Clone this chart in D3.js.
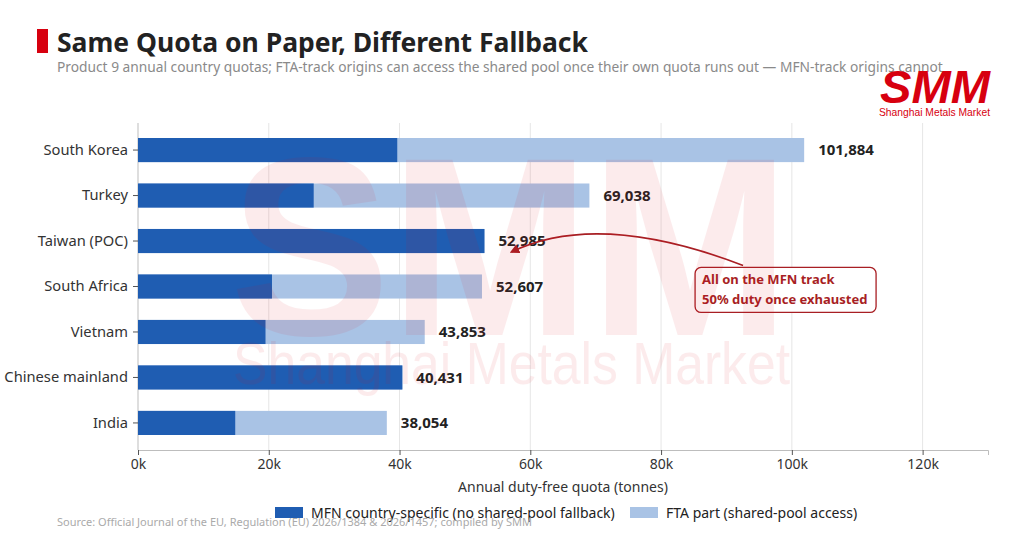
<!DOCTYPE html>
<html>
<head>
<meta charset="utf-8">
<script src="https://cdn.jsdelivr.net/npm/d3@7"></script>
<style>
  body { margin: 0; background: #fff; }
  svg { display: block; font-family: "Noto Sans", "DejaVu Sans", sans-serif; }
</style>
</head>
<body>
<div id="chart"></div>
<script>
const countries = ['South Korea', 'Turkey', 'Taiwan (POC)', 'South Africa', 'Vietnam', 'Chinese mainland', 'India'];
const totalQuota = [101884, 69038, 52985, 52607, 43853, 40431, 38054];
const mfnPart = [39650, 26870, 52985, 20490, 19500, 40431, 14870];
const xTicks = [0, 20000, 40000, 60000, 80000, 100000, 120000];
const seriesNames = ['MFN country-specific (no shared-pool fallback)', 'FTA part (shared-pool access)'];

const width = 1024;
const height = 546;
const margin = {left: 138, right: 36, top: 123, bottom: 96};
const darkBlue = '#1f5db2';
const lightBlue = '#a9c3e5';
const noteRed = '#a81f24';

const svg = d3.select('#chart')
              .append('svg')
                .attr('width', width)
                .attr('height', height);

const xScale = d3.scaleLinear()
                 .domain([0, 130000])
                 .range([margin.left, width - margin.right]);

const yScale = d3.scaleBand()
                 .domain(countries)
                 .range([margin.top, height - margin.bottom])
                 .paddingInner(0.47)
                 .paddingOuter(0.33);

// title block
svg.append('rect')
   .attr('x', 37).attr('y', 29)
   .attr('width', 11).attr('height', 24)
   .attr('fill', '#d7000f');

svg.append('text')
   .attr('x', 57).attr('y', 52)
   .attr('font-size', 26.5)
   .attr('font-weight', 'bold')
   .attr('fill', '#222')
   .text('Same Quota on Paper, Different Fallback');

svg.append('text')
   .attr('x', 57).attr('y', 72)
   .attr('font-size', 13.75)
   .attr('fill', '#8a8a8a')
   .text('Product 9 annual country quotas; FTA-track origins can access the shared pool once their own quota runs out \u2014 MFN-track origins cannot');

// logo
svg.append('text')
   .attr('x', 880).attr('y', 103)
   .attr('font-size', 46)
   .attr('font-weight', 900)
   .attr('font-style', 'italic')
   .attr('font-family', '"Liberation Sans", Arial, sans-serif')
   .attr('textLength', 110)
   .attr('lengthAdjust', 'spacingAndGlyphs')
   .attr('fill', '#d7000f')
   .text('SMM');

svg.append('text')
   .attr('x', 879).attr('y', 116)
   .attr('font-size', 11)
   .attr('font-family', '"Liberation Sans", Arial, sans-serif')
   .attr('textLength', 111)
   .attr('lengthAdjust', 'spacingAndGlyphs')
   .attr('fill', '#d7000f')
   .text('Shanghai Metals Market');

// gridlines
svg.append('g')
   .selectAll('line')
   .data(xTicks.slice(1))
   .enter()
     .append('line')
       .attr('x1', d => xScale(d)).attr('x2', d => xScale(d))
       .attr('y1', margin.top).attr('y2', height - margin.bottom)
       .attr('stroke', '#e6e6e6')
       .attr('stroke-width', 1);

// x-axis
const xAxis = svg.append('g')
                 .attr('transform', `translate(0, ${height - margin.bottom})`)
                 .call(d3.axisBottom(xScale)
                         .tickValues(xTicks)
                         .tickFormat(d => (d / 1000) + 'k')
                         .tickSize(5)
                         .tickPadding(4));
xAxis.select('.domain').attr('stroke', '#bdbdbd');
xAxis.selectAll('.tick line').attr('stroke', '#555');
xAxis.selectAll('.tick text')
     .attr('font-size', 14)
     .attr('font-family', '"Noto Sans", sans-serif')
     .attr('fill', '#333');

svg.append('text')
   .attr('x', (xScale.range()[0] + xScale.range()[1]) / 2)
   .attr('y', 492)
   .attr('text-anchor', 'middle')
   .attr('font-size', 14)
   .attr('fill', '#333')
   .text('Annual duty-free quota (tonnes)');

// y-axis
const yAxis = svg.append('g')
                 .attr('transform', `translate(${margin.left}, 0)`)
                 .call(d3.axisLeft(yScale).tickSize(5).tickPadding(5));
yAxis.select('.domain')
     .attr('stroke', '#bdbdbd')
     .attr('d', `M0,${margin.top}V${height - margin.bottom}`);
yAxis.selectAll('.tick line').attr('stroke', '#555');
yAxis.selectAll('.tick text')
     .attr('font-size', 14.7)
     .attr('font-family', '"Noto Sans", sans-serif')
     .attr('fill', '#333');

// bars
const rows = countries.map((c, i) => ({country: c, total: totalQuota[i], mfn: mfnPart[i]}));

svg.append('g')
   .selectAll('rect')
   .data(rows)
   .enter()
     .append('rect')
       .attr('x', xScale(0))
       .attr('y', d => yScale(d.country))
       .attr('width', d => xScale(d.total) - xScale(0))
       .attr('height', yScale.bandwidth())
       .attr('fill', lightBlue);

svg.append('g')
   .selectAll('rect')
   .data(rows)
   .enter()
     .append('rect')
       .attr('x', xScale(0))
       .attr('y', d => yScale(d.country))
       .attr('width', d => xScale(d.mfn) - xScale(0))
       .attr('height', yScale.bandwidth())
       .attr('fill', darkBlue);

// value labels
svg.append('g')
   .selectAll('text')
   .data(rows)
   .enter()
     .append('text')
       .attr('x', d => xScale(d.total) + 14)
       .attr('y', d => yScale(d.country) + yScale.bandwidth() / 2)
       .attr('dy', '0.35em')
       .attr('font-size', 15)
       .attr('font-weight', 'bold')
       .attr('fill', '#222')
       .text(d => d3.format(',')(d.total));

// annotation
const taiwan = rows[2];
const tipX = xScale(taiwan.total) + 27;
const tipY = yScale(taiwan.country) + yScale.bandwidth() / 2 + 11;
const boxX = xScale(85200);
const boxY = yScale('South Africa') - 7;
const startX = boxX + 48;
const startY = boxY - 2;

svg.append('defs')
   .append('marker')
     .attr('id', 'arrowhead')
     .attr('viewBox', '0 0 10 10')
     .attr('refX', 8).attr('refY', 5)
     .attr('markerWidth', 6).attr('markerHeight', 6)
     .attr('orient', 'auto-start-reverse')
   .append('path')
     .attr('d', 'M0,0L10,5L0,10Z')
     .attr('fill', noteRed);

const curve = d3.path();
curve.moveTo(startX, startY);
curve.quadraticCurveTo(598, 210, tipX, tipY);
svg.append('path')
   .attr('d', curve.toString())
   .attr('fill', 'none')
   .attr('stroke', noteRed)
   .attr('stroke-width', 1.6)
   .attr('marker-end', 'url(#arrowhead)');

svg.append('rect')
   .attr('x', boxX).attr('y', boxY)
   .attr('width', 181).attr('height', 45)
   .attr('rx', 6)
   .attr('fill', '#fff')
   .attr('stroke', noteRed)
   .attr('stroke-width', 1.3);

const note = svg.append('text')
                .attr('font-size', 13)
                .attr('font-weight', 'bold')
                .attr('fill', noteRed);
note.append('tspan').attr('x', boxX + 7).attr('y', boxY + 17).text('All on the MFN track');
note.append('tspan').attr('x', boxX + 7).attr('y', boxY + 37).text('50% duty once exhausted');

// legend
const legend = svg.append('g');
const legendX = [275, 630];
const legendColors = [darkBlue, lightBlue];
seriesNames.forEach((name, i) => {
    legend.append('rect')
          .attr('x', legendX[i]).attr('y', 507)
          .attr('width', 28).attr('height', 11)
          .attr('fill', legendColors[i]);
    legend.append('text')
          .attr('x', legendX[i] + 36).attr('y', 513)
          .attr('dy', '0.35em')
          .attr('font-size', 14)
          .attr('fill', '#222')
          .text(name);
});

// source
svg.append('text')
   .attr('x', 57).attr('y', 526)
   .attr('font-size', 11)
   .attr('fill', '#aaa')
   .text('Source: Official Journal of the EU, Regulation (EU) 2026/1384 & 2026/1457; compiled by SMM');

// watermark
const mark = svg.append('g').attr('opacity', 0.08).attr('pointer-events', 'none');
mark.append('text')
    .attr('x', 230).attr('y', 335)
    .attr('font-size', 255)
    .attr('font-weight', 900)
    .attr('font-family', '"Liberation Sans", Arial, sans-serif')
    .attr('textLength', 560)
    .attr('lengthAdjust', 'spacingAndGlyphs')
    .attr('fill', '#e0101c')
    .text('SMM');
mark.append('text')
    .attr('x', 233).attr('y', 384)
    .attr('font-size', 60)
    .attr('font-family', '"Liberation Sans", Arial, sans-serif')
    .attr('textLength', 557)
    .attr('lengthAdjust', 'spacingAndGlyphs')
    .attr('fill', '#e0101c')
    .text('Shanghai Metals Market');
</script>
</body>
</html>
